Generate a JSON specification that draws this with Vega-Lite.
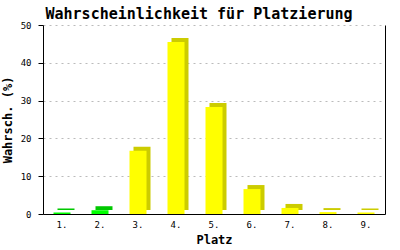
{
  "$schema": "https://vega.github.io/schema/vega-lite/v6.json",
  "width": 342,
  "height": 189,
  "autosize": {"type": "none"},
  "padding": {"left": 43, "top": 25, "right": 15, "bottom": 36},
  "background": "white",
  "title": {
    "text": "Wahrscheinlichkeit für Platzierung",
    "font": "DejaVu Sans Mono",
    "fontSize": 15,
    "fontWeight": "bold",
    "color": "black",
    "dx": -15,
    "offset": -1
  },
  "data": {
    "values": [
      {"platz": "1.", "p": 0.4, "grp": "g"},
      {"platz": "2.", "p": 1.0, "grp": "g"},
      {"platz": "3.", "p": 16.7, "grp": "y"},
      {"platz": "4.", "p": 45.5, "grp": "y"},
      {"platz": "5.", "p": 28.3, "grp": "y"},
      {"platz": "6.", "p": 6.6, "grp": "y"},
      {"platz": "7.", "p": 1.6, "grp": "y"},
      {"platz": "8.", "p": 0.5, "grp": "y"},
      {"platz": "9.", "p": 0.4, "grp": "y"}
    ]
  },
  "config": {
    "view": {"stroke": null},
    "axis": {
      "labelFont": "DejaVu Sans Mono",
      "labelFontSize": 9,
      "labelColor": "black",
      "titleFont": "DejaVu Sans Mono",
      "titleFontSize": 12,
      "titleFontWeight": "bold",
      "titleColor": "black",
      "domainColor": "black",
      "tickColor": "black"
    }
  },
  "encoding": {
    "x": {
      "field": "platz",
      "type": "nominal",
      "sort": null,
      "scale": {"paddingInner": 0, "paddingOuter": 0},
      "axis": {"title": "Platz", "labelAngle": 0, "ticks": false, "labelPadding": 6, "titlePadding": 5, "grid": false}
    }
  },
  "layer": [
    {
      "mark": {"type": "bar", "width": 17, "xOffset": 4, "yOffset": -4, "y2Offset": 0},
      "encoding": {
        "y": {
          "field": "p",
          "type": "quantitative",
          "scale": {"domain": [0, 50]},
          "axis": {
            "title": "Wahrsch. (%)",
            "values": [0, 10, 20, 30, 40, 50],
            "tickSize": 5,
            "labelPadding": 7,
            "titlePadding": 6,
            "grid": true,
            "gridColor": "#bbbbbb",
            "gridDash": [2, 4]
          }
        },
        "color": {
          "field": "grp",
          "type": "nominal",
          "scale": {"domain": ["g", "y"], "range": ["#00c800", "#cccc00"]},
          "legend": null
        }
      }
    },
    {
      "mark": {"type": "bar", "width": 17},
      "encoding": {
        "y": {
          "field": "p",
          "type": "quantitative",
          "axis": {"orient": "right", "labels": false, "ticks": false, "grid": false, "title": null}
        },
        "color": {
          "field": "grp",
          "type": "nominal",
          "scale": {"domain": ["g", "y"], "range": ["#00ff00", "#ffff00"]},
          "legend": null
        }
      }
    }
  ],
  "resolve": {"scale": {"color": "independent"}, "axis": {"y": "independent"}}
}
